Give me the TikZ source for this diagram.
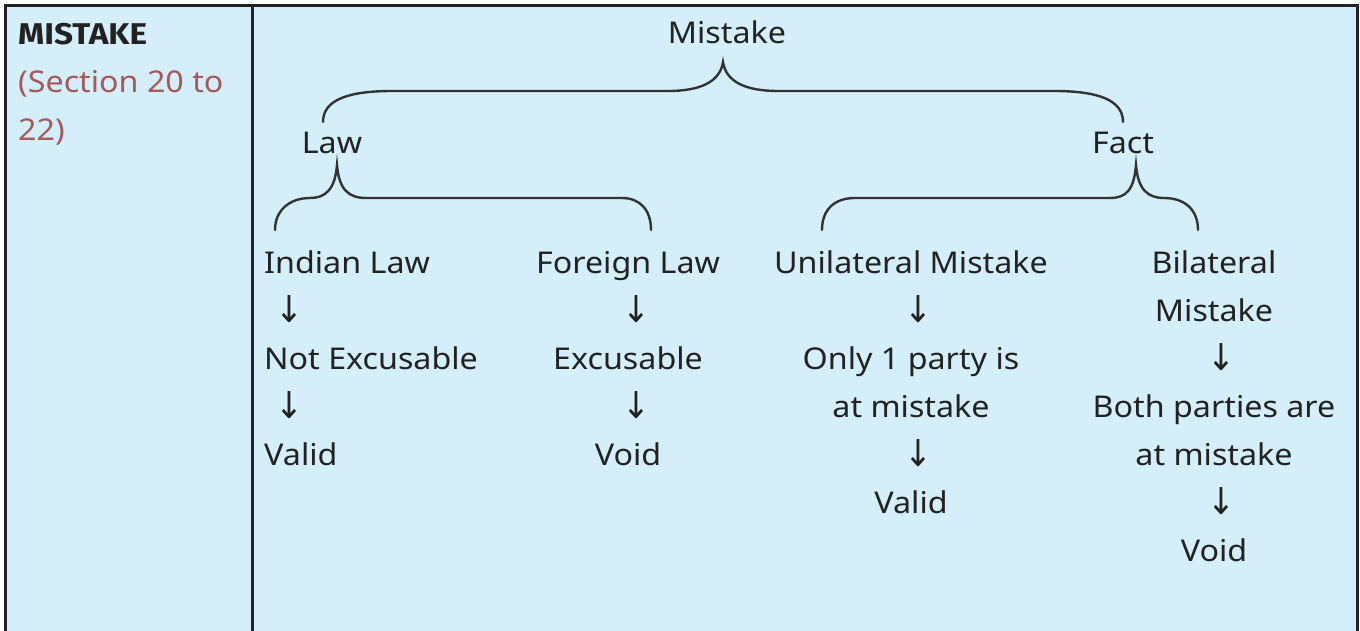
\documentclass[tikz,border=0pt]{standalone}
\usepackage{fontspec}
\setmainfont{Noto Sans}[FakeStretch=1.075]
\newfontfamily\boldfnt{Fira Sans}[UprightFont={* Bold}, FakeStretch=1.11]
\newfontfamily\arrowfont{DejaVu Sans}[FakeStretch=0.9]
\definecolor{cellblue}{HTML}{D4EEFA}
\definecolor{ink}{HTML}{222222}
\definecolor{secred}{HTML}{A65A5A}
\definecolor{bracegray}{HTML}{333333}
\begin{document}
\begin{tikzpicture}[x=1pt,y=-1pt,
  txt/.style={inner sep=0pt, anchor=base, text=ink, font=\fontsize{30}{36}\selectfont},
  ltxt/.style={txt, anchor=base west},
  arr/.style={txt, font=\arrowfont\fontsize{37}{40}\selectfont},
  brace/.style={draw=bracegray, line width=2.4pt, line cap=round},
  rule/.style={draw=ink, line width=3pt}]
\useasboundingbox (0,0) rectangle (1360,631);
\fill[white] (0,0) rectangle (1360,631);
\fill[cellblue] (5,6) rectangle (1357,640);
\draw[rule] (5,640) -- (5,6) -- (1357,6) -- (1357,640);
\draw[rule] (252,6) -- (252,640);

% left cell
\node[ltxt, font=\boldfnt\fontsize{30}{36}\selectfont] (title) at (18,45) {MISTAKE};
\node[ltxt, text=secred] (sec1) at (18,93) {(Section 20 to};
\node[ltxt, text=secred] (sec2) at (18,141) {22)};

% hierarchy
\node[txt] (mistake) at (727,44) {Mistake};
\node[txt] (law) at (332,154) {Law};
\node[txt] (fact) at (1123,154) {Fact};

\draw[brace] (323,122) .. controls (323,100) and (348,91) .. (392,91) -- (668,91)
  .. controls (700,91) and (720,82) .. (723,62)
  .. controls (726,82) and (746,91) .. (778,91) -- (1054,91)
  .. controls (1098,91) and (1123,100) .. (1123,122);

\draw[brace] (275,230) .. controls (275,210) and (290,198) .. (310,198)
  .. controls (325,198) and (335,190) .. (337,165)
  .. controls (339,190) and (349,198) .. (366,198) -- (622,198)
  .. controls (640,198) and (651,210) .. (651,230);

\draw[brace] (822,230) .. controls (822,210) and (834,198) .. (855,198) -- (1110,198)
  .. controls (1126,198) and (1134,190) .. (1136,165)
  .. controls (1138,190) and (1148,198) .. (1164,198)
  .. controls (1185,198) and (1198,210) .. (1198,230);

% column 1
\node[ltxt] (ind) at (264,273) {Indian Law};
\node[arr] (a1) at (289,322) {↓};
\node[ltxt] (notex) at (264,369) {Not Excusable};
\node[arr] (a2) at (289,418) {↓};
\node[ltxt] (valid1) at (264,465) {Valid};

% column 2
\node[txt] (for) at (628,273) {Foreign Law};
\node[arr] (a3) at (636,322) {↓};
\node[txt] (exc) at (628,369) {Excusable};
\node[arr] (a4) at (636,418) {↓};
\node[txt] (void1) at (628,465) {Void};

% column 3
\node[txt] (uni) at (911,273) {Unilateral Mistake};
\node[arr] (a5) at (918,322) {↓};
\node[txt] (only) at (911,369) {Only 1 party is};
\node[txt] (atm1) at (911,417) {at mistake};
\node[arr] (a6) at (918,466) {↓};
\node[txt] (valid2) at (911,513) {Valid};

% column 4
\node[txt] (bil) at (1214,273) {Bilateral};
\node[txt] (bil2) at (1214,321) {Mistake};
\node[arr] (a7) at (1221,370) {↓};
\node[txt] (both) at (1214,417) {Both parties are};
\node[txt] (atm2) at (1214,465) {at mistake};
\node[arr] (a8) at (1221,514) {↓};
\node[txt] (void2) at (1214,561) {Void};
\end{tikzpicture}
\end{document}
